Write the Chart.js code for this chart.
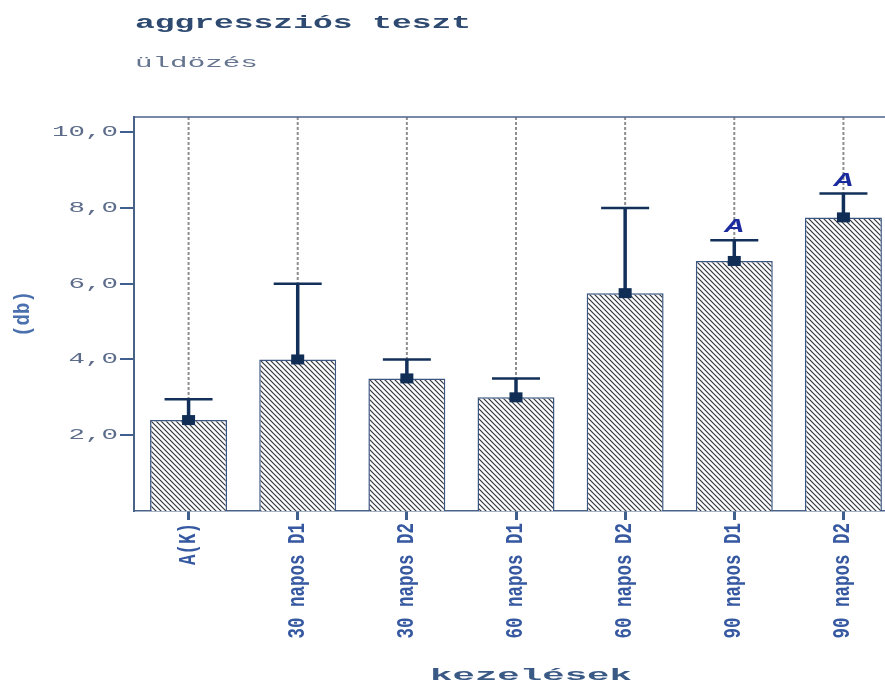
<!DOCTYPE html>
<html>
<head>
<meta charset="utf-8">
<script src="https://cdn.jsdelivr.net/npm/chart.js@4.4.1/dist/chart.umd.min.js"></script>
<style>
  html, body { margin: 0; padding: 0; background: #fff; overflow: hidden; width: 885px; height: 684px; }
  canvas { display: block; }
</style>
</head>
<body>
<canvas id="c" width="900" height="684"></canvas>
<script>
// Treatment groups and measured values
const categories = ['A(K)', '30 napos D1', '30 napos D2', '60 napos D1', '60 napos D2', '90 napos D1', '90 napos D2'];
const means = [2.4, 4.0, 3.5, 3.0, 5.75, 6.6, 7.75];
const upperErrors = [0.55, 2.0, 0.5, 0.5, 2.25, 0.55, 0.63];
const groupLetters = ['', '', '', '', '', 'A', 'A'];
const yTickValues = [2, 4, 6, 8, 10];

const titleText = 'aggressziós teszt';
const subtitleText = 'üldözés';
const xTitleText = 'kezelések';
const yTitleText = '(db)';

// Diagonal hatch fill for the bars
function makeHatch() {
  const s = 5;
  const t = document.createElement('canvas');
  t.width = s; t.height = s;
  const g = t.getContext('2d');
  g.fillStyle = '#ffffff';
  g.fillRect(0, 0, s, s);
  g.strokeStyle = '#33363e';
  g.lineWidth = 1.2;
  for (let k = -1; k <= 1; k++) {
    g.beginPath();
    g.moveTo(k * s - 1, -1);
    g.lineTo(k * s + s + 1, s + 1);
    g.stroke();
  }
  return g.createPattern(t, 'repeat');
}

// Text helper: stretched / rotated canvas text
function drawText(ctx, text, x, y, opts) {
  ctx.save();
  ctx.translate(x, y);
  if (opts.rotate) ctx.rotate(opts.rotate);
  ctx.scale(opts.sx || 1, opts.sy || 1);
  ctx.font = opts.font;
  ctx.fillStyle = opts.color;
  ctx.textAlign = opts.align || 'left';
  ctx.textBaseline = opts.baseline || 'alphabetic';
  ctx.fillText(text, 0, 0);
  ctx.restore();
}

const decor = {
  id: 'decor',
  beforeDatasetsDraw(chart) {
    const { ctx, chartArea, scales: { x, y } } = chart;
    ctx.save();
    ctx.strokeStyle = '#8e8e8e';
    ctx.lineWidth = 2;
    ctx.setLineDash([3, 2]);
    means.forEach((m, i) => {
      const px = x.getPixelForValue(i);
      const top = y.getPixelForValue(m + upperErrors[i]);
      ctx.beginPath();
      ctx.moveTo(px, chartArea.top);
      ctx.lineTo(px, top);
      ctx.stroke();
    });
    ctx.restore();
  },
  afterDatasetsDraw(chart) {
    const { ctx, scales: { x, y } } = chart;
    ctx.save();
    means.forEach((m, i) => {
      const px = x.getPixelForValue(i);
      const py = y.getPixelForValue(m);
      const pe = y.getPixelForValue(m + upperErrors[i]);
      ctx.strokeStyle = '#12305a';
      ctx.lineWidth = 3.5;
      ctx.beginPath();
      ctx.moveTo(px, py);
      ctx.lineTo(px, pe);
      ctx.stroke();
      ctx.lineWidth = 2.5;
      ctx.beginPath();
      ctx.moveTo(px - 24, pe);
      ctx.lineTo(px + 24, pe);
      ctx.stroke();
      ctx.fillStyle = '#0f2d55';
      ctx.fillRect(px - 6.5, py - 5, 13, 10);
      if (groupLetters[i]) {
        drawText(ctx, groupLetters[i], px, pe - 8, {
          font: 'italic bold 19px "Liberation Sans"', color: '#1b2b9e',
          sx: 1.5, align: 'center', baseline: 'alphabetic'
        });
      }
    });
    ctx.restore();
  },
  afterDraw(chart) {
    const { ctx, chartArea, scales: { x, y } } = chart;
    // top frame line
    ctx.save();
    ctx.strokeStyle = '#4a6288';
    ctx.lineWidth = 1.5;
    ctx.beginPath();
    ctx.moveTo(chartArea.left, chartArea.top);
    ctx.lineTo(chartArea.right + 5, chartArea.top);
    ctx.stroke();
    ctx.restore();

    // titles
    drawText(ctx, titleText, 135, 28, { font: 'bold 18px "Liberation Mono"', color: '#2e4a70', sx: 1.83 });
    drawText(ctx, subtitleText, 135, 67, { font: '14px "Liberation Mono"', color: '#65758f', sx: 2.09 });

    // y tick labels
    y.ticks.forEach(t => {
      const py = y.getPixelForValue(t.value);
      drawText(ctx, t.value.toFixed(1).replace('.', ','), 118, py, {
        font: '15px "Liberation Mono"', color: '#5c6c8a', sx: 1.83, align: 'right', baseline: 'middle'
      });
    });

    // x category labels, vertical
    categories.forEach((c, i) => {
      const px = x.getPixelForValue(i);
      drawText(ctx, c, px, chartArea.bottom + 12, {
        font: 'bold 17.5px "Liberation Mono"', color: '#3558a0',
        rotate: -Math.PI / 2, sy: 1.35, align: 'right', baseline: 'middle'
      });
    });

    // axis titles
    drawText(ctx, xTitleText, 531, 680, { font: 'bold 17px "Liberation Mono"', color: '#3a5a85', sx: 2.2, align: 'center' });
    drawText(ctx, yTitleText, 23, 314, {
      font: 'bold 19px "Liberation Mono"', color: '#4b70ae',
      rotate: -Math.PI / 2, sy: 1.2, align: 'center', baseline: 'middle'
    });
  }
};

const chart = new Chart(document.getElementById('c'), {
  type: 'bar',
  data: {
    labels: categories,
    datasets: [{
      data: means,
      backgroundColor: makeHatch(),
      borderColor: '#3a5680',
      borderWidth: 1.5,
      borderSkipped: 'bottom',
      categoryPercentage: 1,
      barPercentage: 0.705
    }]
  },
  options: {
    responsive: false,
    animation: false,
    devicePixelRatio: 1,
    layout: { padding: { left: 0, top: 117, right: 2, bottom: 0 } },
    plugins: { legend: { display: false }, title: { display: false }, tooltip: { enabled: false } },
    scales: {
      x: {
        offset: true,
        grid: { offset: false, drawOnChartArea: false, drawTicks: true, tickLength: 9, color: '#3f5f8f', lineWidth: 3 },
        border: { display: true, color: '#4a6288', width: 1.5 },
        ticks: { display: false },
        afterFit(scale) { scale.height = 173; }
      },
      y: {
        min: 0,
        max: 10.4,
        afterBuildTicks(scale) { scale.ticks = yTickValues.map(v => ({ value: v })); },
        grid: { drawOnChartArea: false, drawTicks: true, tickLength: 14, color: '#3f5f8f', lineWidth: 2 },
        border: { display: true, color: '#4a6288', width: 2 },
        ticks: { display: false },
        afterFit(scale) { scale.width = 134; }
      }
    }
  },
  plugins: [decor]
});
</script>
</body>
</html>
